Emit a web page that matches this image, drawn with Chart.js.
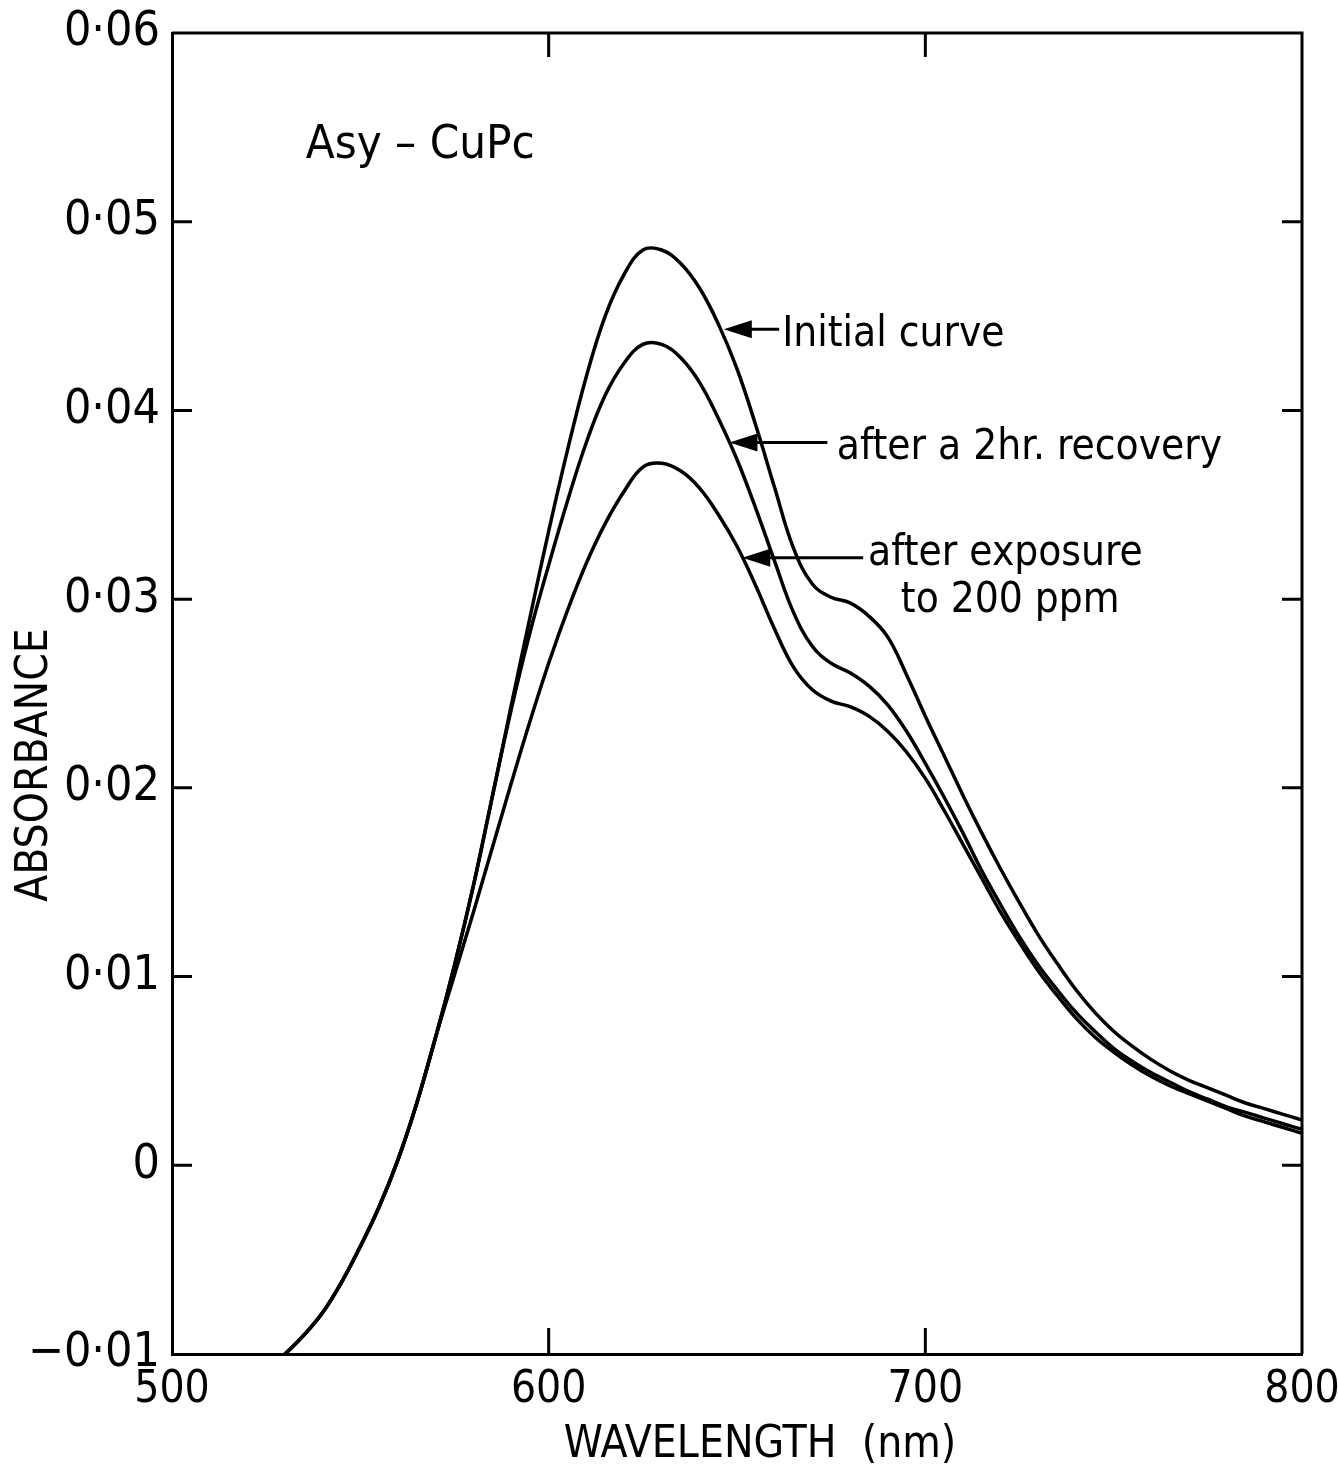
<!DOCTYPE html>
<html>
<head>
<meta charset="utf-8">
<title>Asy-CuPc absorbance</title>
<script src="https://cdn.jsdelivr.net/npm/chart.js@4.4.1/dist/chart.umd.min.js"></script>
<style>
  html, body { margin: 0; padding: 0; background: #fff; }
  #wrap { width: 1338px; height: 1480px; }
</style>
</head>
<body>
<div id="wrap"><canvas id="absChart" width="1338" height="1480"></canvas></div>
<script>
// Dados (nm / absorbância)
const wavelengths = [525, 530, 535, 540, 545, 550, 555, 560, 565, 570, 575, 580, 585, 590, 595,
    600, 605, 610, 615, 620, 625, 630, 635, 640, 645, 650, 655, 660, 665, 670, 675, 680, 685, 690, 695,
    700, 705, 710, 715, 720, 725, 730, 735, 740, 745, 750, 755, 760, 765, 770, 775, 780, 785, 790, 795, 800];

const initialCurve = [-0.0110, -0.0100, -0.0090, -0.0078, -0.0062, -0.0043, -0.0022, 0.0003, 0.0033, 0.0068, 0.0106, 0.0148, 0.0195, 0.0243, 0.0290,
    0.0336, 0.0379, 0.0418, 0.0450, 0.0472, 0.0485, 0.0485, 0.0478, 0.0465, 0.0446, 0.0422, 0.0392, 0.0359, 0.0327, 0.0308, 0.0301, 0.0298, 0.0291, 0.0280, 0.0260,
    0.0238, 0.0217, 0.0196, 0.0176, 0.0157, 0.0139, 0.0122, 0.0107, 0.0093, 0.0081, 0.0071, 0.0063, 0.0056, 0.0050, 0.0045, 0.0041, 0.0037, 0.0033, 0.0030, 0.0027, 0.0024];

const afterRecovery = [-0.0110, -0.0100, -0.0090, -0.0078, -0.0062, -0.0043, -0.0022, 0.0003, 0.0033, 0.0068, 0.0106, 0.0148, 0.0195, 0.0241, 0.0282,
    0.0318, 0.0352, 0.0383, 0.0408, 0.0425, 0.0435, 0.0435, 0.0428, 0.0415, 0.0396, 0.0374, 0.0348, 0.0320, 0.0293, 0.0275, 0.0266, 0.0261, 0.0254, 0.0244, 0.0230,
    0.0213, 0.0195, 0.0176, 0.0156, 0.0138, 0.0121, 0.0106, 0.0093, 0.0081, 0.0071, 0.0062, 0.0055, 0.0049, 0.0044, 0.0039, 0.0035, 0.0031, 0.0028, 0.0025, 0.0022, 0.0019];

const afterExposure = [-0.0110, -0.0100, -0.0090, -0.0078, -0.0062, -0.0043, -0.0022, 0.0003, 0.0033, 0.0068, 0.0101, 0.0134, 0.0168, 0.0202, 0.0235,
    0.0266, 0.0294, 0.0319, 0.0340, 0.0357, 0.0370, 0.0372, 0.0368, 0.0359, 0.0345, 0.0328, 0.0307, 0.0284, 0.0264, 0.0252, 0.0246, 0.0243, 0.0238, 0.0230, 0.0219,
    0.0205, 0.0188, 0.0170, 0.0152, 0.0134, 0.0118, 0.0103, 0.0090, 0.0078, 0.0068, 0.0060, 0.0053, 0.0047, 0.0042, 0.0038, 0.0034, 0.0030, 0.0026, 0.0023, 0.0020, 0.0017];

const xTickValues = [500, 600, 700, 800];
const yTickValues = [-0.01, 0, 0.01, 0.02, 0.03, 0.04, 0.05, 0.06];

const NARROW = "'DejaVu Sans Condensed', 'Liberation Sans Narrow', 'Liberation Sans', sans-serif";

const toPoints = (vals) => wavelengths.map((w, i) => ({ x: w, y: vals[i] }));

// Rótulo do eixo y no estilo "0·05"
const yLabel = (v) => {
    const n = Math.round(v * 100);
    if (n === 0) return '0';
    return (n < 0 ? '\u22120\u00b70' : '0\u00b70') + Math.abs(n);
};

const curveStyle = {
    borderColor: '#000',
    borderWidth: 3.5,
    pointRadius: 0,
    fill: false,
    tension: 0.4
};

// Moldura, marcas internas, títulos e anotações
const framePlugin = {
    id: 'framePlugin',
    afterDraw(chart) {
        const { ctx, chartArea: a, scales: { x, y } } = chart;
        ctx.save();
        ctx.strokeStyle = '#000';
        ctx.fillStyle = '#000';
        ctx.lineWidth = 3;
        ctx.lineCap = 'butt';

        ctx.beginPath();
        ctx.moveTo(a.left, a.top);
        ctx.lineTo(a.right, a.top);
        ctx.lineTo(a.right, a.bottom);
        ctx.stroke();

        // marcas para dentro
        ctx.beginPath();
        yTickValues.forEach(v => {
            if (v <= y.min || v >= y.max) return;
            const py = y.getPixelForValue(v);
            ctx.moveTo(a.left, py); ctx.lineTo(a.left + 20, py);
            ctx.moveTo(a.right, py); ctx.lineTo(a.right - 20, py);
        });
        xTickValues.forEach(v => {
            if (v <= x.min || v >= x.max) return;
            const px = x.getPixelForValue(v);
            ctx.moveTo(px, a.bottom); ctx.lineTo(px, a.bottom - 26);
            ctx.moveTo(px, a.top); ctx.lineTo(px, a.top + 24);
        });
        ctx.stroke();

        // títulos dos eixos
        ctx.font = '44px ' + NARROW;
        ctx.textAlign = 'center';
        ctx.textBaseline = 'middle';
        ctx.fillText('WAVELENGTH  (nm)', 760, 1446);
        ctx.save();
        ctx.translate(36, 765);
        ctx.rotate(-Math.PI / 2);
        ctx.fillText('ABSORBANCE', 0, 0);
        ctx.restore();

        // anotações
        ctx.textAlign = 'left';
        ctx.font = '47px ' + NARROW;
        ctx.fillText('Asy \u2013 CuPc', x.getPixelForValue(535.5), y.getPixelForValue(0.0540));

        ctx.font = '42px ' + NARROW;
        const arrow = (tipX, endX, v) => {
            const tx = x.getPixelForValue(tipX);
            const ex = x.getPixelForValue(endX);
            const py = y.getPixelForValue(v);
            ctx.lineWidth = 3;
            ctx.beginPath();
            ctx.moveTo(tx + 20, py);
            ctx.lineTo(ex, py);
            ctx.stroke();
            ctx.beginPath();
            ctx.moveTo(tx, py);
            ctx.lineTo(tx + 28, py - 9);
            ctx.lineTo(tx + 28, py + 9);
            ctx.closePath();
            ctx.fill();
        };

        arrow(646.5, 661.2, 0.0443);
        ctx.fillText('Initial curve', x.getPixelForValue(662), y.getPixelForValue(0.0440));

        arrow(648, 674, 0.0383);
        ctx.fillText('after a 2hr. recovery', x.getPixelForValue(676.5), y.getPixelForValue(0.0380));

        arrow(651.4, 683.5, 0.0322);
        ctx.fillText('after exposure', x.getPixelForValue(684.8), y.getPixelForValue(0.0324));
        ctx.fillText('to 200 ppm', x.getPixelForValue(693.5), y.getPixelForValue(0.0299));

        ctx.restore();
    }
};

new Chart(document.getElementById('absChart'), {
    type: 'line',
    data: {
        datasets: [
            { label: 'Initial curve', data: toPoints(initialCurve), ...curveStyle },
            { label: 'after a 2hr. recovery', data: toPoints(afterRecovery), ...curveStyle },
            { label: 'after exposure to 200 ppm', data: toPoints(afterExposure), ...curveStyle }
        ]
    },
    options: {
        responsive: false,
        animation: false,
        layout: { padding: { top: 33, right: 36, left: 0, bottom: 0 } },
        plugins: { legend: { display: false }, tooltip: { enabled: false } },
        scales: {
            x: {
                type: 'linear',
                min: 500,
                max: 800,
                afterFit: s => { s.height = 126; s.paddingLeft = 0; s.paddingRight = 0; },
                afterBuildTicks: s => { s.ticks = xTickValues.map(v => ({ value: v })); },
                grid: { display: true, drawOnChartArea: false, drawTicks: false },
                border: { display: true, color: '#000', width: 3 },
                ticks: {
                    color: '#000',
                    padding: 10,
                    maxRotation: 0,
                    font: { family: NARROW, size: 44 }
                }
            },
            y: {
                type: 'linear',
                min: -0.01,
                max: 0.06,
                afterFit: s => { s.width = 172; s.paddingTop = 0; s.paddingBottom = 0; },
                afterBuildTicks: s => { s.ticks = yTickValues.map(v => ({ value: v })); },
                grid: { display: true, drawOnChartArea: false, drawTicks: false },
                border: { display: true, color: '#000', width: 3 },
                ticks: {
                    color: '#000',
                    padding: 12,
                    callback: v => yLabel(v),
                    font: { family: NARROW, size: 48 }
                }
            }
        }
    },
    plugins: [framePlugin]
});
</script>
</body>
</html>
